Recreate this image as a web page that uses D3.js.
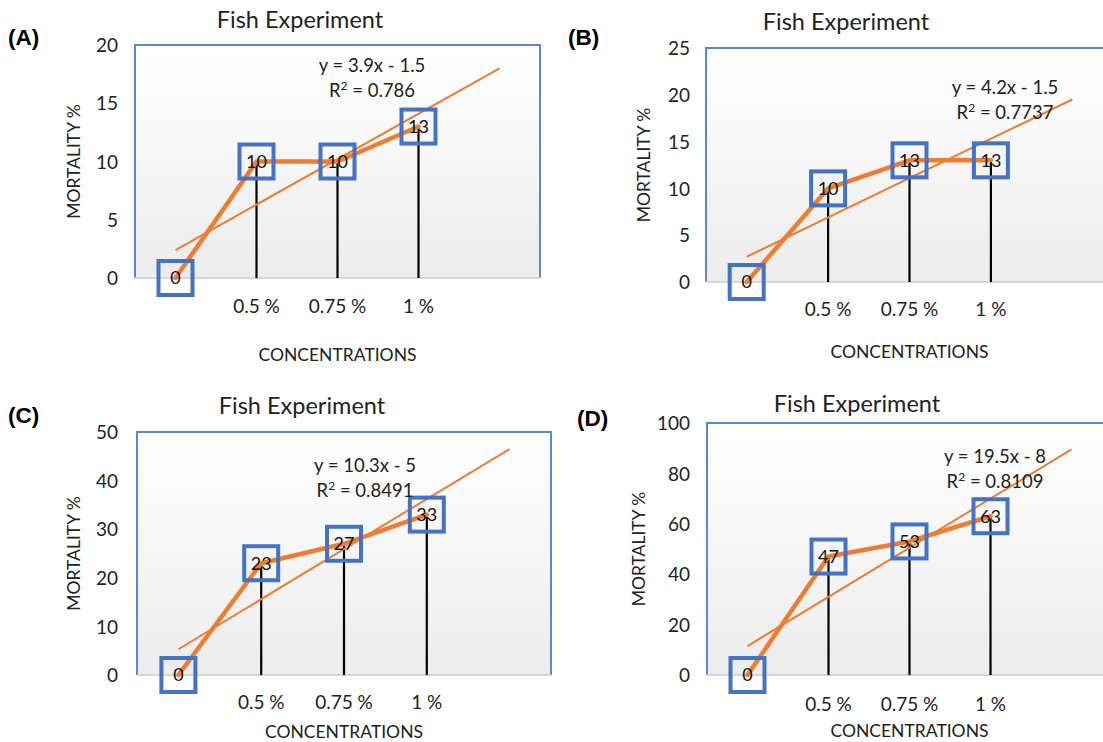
<!DOCTYPE html>
<html>
<head>
<meta charset="utf-8">
<script src="https://cdn.jsdelivr.net/npm/d3@7"></script>
<style>
  html, body { margin: 0; padding: 0; background: #ffffff; }
  svg { display: block; }
</style>
</head>
<body>
<svg id="chart" width="1103" height="742"></svg>
<script>
// Mortality of fish at each concentration, one series per panel
const categories = ["", "0.5 %", "0.75 %", "1 %", ""];
const panelLabels = ["(A)", "(B)", "(C)", "(D)"];
const mortalityA = [0, 10, 10, 13];
const mortalityB = [0, 10, 13, 13];
const mortalityC = [0, 23, 27, 33];
const mortalityD = [0, 47, 53, 63];
const yMaxima = [20, 25, 50, 100];
const yTickSteps = [5, 5, 10, 20];
// Linear trendline y = slope * x + intercept, x = category number (1..5)
const slopes = [3.9, 4.2, 10.3, 19.5];
const intercepts = [-1.5, -1.5, -5, -8];
const rSquared = ["0.786", "0.7737", "0.8491", "0.8109"];

const seriesList = [mortalityA, mortalityB, mortalityC, mortalityD];

// Frame of each panel on the page
const frames = [
  { left: 135, right: 540, top: 45, bottom: 278, tagX: 8, tagY: 45, titleX: 300, titleY: 28,
    tickX: 118, xLabelY: 313, xTitleY: 361, yTitleX: 80, eqX: 372, eqY: 72, rightBorder: true },
  { left: 706, right: 1113, top: 48, bottom: 282, tagX: 568, tagY: 45, titleX: 846, titleY: 30,
    tickX: 690, xLabelY: 316, xTitleY: 358, yTitleX: 650, eqX: 1005, eqY: 94, rightBorder: false },
  { left: 137, right: 551, top: 432, bottom: 675, tagX: 8, tagY: 423, titleX: 302, titleY: 414,
    tickX: 118, xLabelY: 709, xTitleY: 738, yTitleX: 80, eqX: 365, eqY: 472, rightBorder: true },
  { left: 707, right: 1112, top: 423, bottom: 675, tagX: 577, tagY: 426, titleX: 857, titleY: 412,
    tickX: 690, xLabelY: 711, xTitleY: 737, yTitleX: 645, eqX: 995, eqY: 463, rightBorder: false }
];

const FONT = "Lato, 'Open Sans', sans-serif";
const ORANGE = "#ED7D31";
const BLUE = "#4472C4";

const svg = d3.select("#chart");
const defs = svg.append("defs");
const grad = defs.append("linearGradient")
  .attr("id", "plotFill").attr("x1", 0).attr("y1", 0).attr("x2", 0).attr("y2", 1);
grad.append("stop").attr("offset", "0%").attr("stop-color", "#ffffff");
grad.append("stop").attr("offset", "100%").attr("stop-color", "#ececec");

seriesList.forEach((values, i) => {
  const f = frames[i];
  const g = svg.append("g");

  const x = d3.scaleBand().domain(d3.range(categories.length))
    .range([f.left, f.right]).paddingInner(0).paddingOuter(0);
  const cx = k => x(k) + x.bandwidth() / 2;
  const y = d3.scaleLinear().domain([0, yMaxima[i]]).range([f.bottom, f.top]);

  // plot area background
  g.append("rect")
    .attr("x", f.left).attr("y", f.top)
    .attr("width", f.right - f.left).attr("height", f.bottom - f.top)
    .attr("fill", "url(#plotFill)");

  // blue frame (left, top, right)
  const framePath = d3.path();
  framePath.moveTo(f.left, f.bottom);
  framePath.lineTo(f.left, f.top);
  framePath.lineTo(f.right, f.top);
  if (f.rightBorder) framePath.lineTo(f.right, f.bottom);
  g.append("path").attr("d", framePath.toString())
    .attr("fill", "none").attr("stroke", "#5B86D0").attr("stroke-width", 2);

  // category axis line
  g.append("line")
    .attr("x1", f.left).attr("x2", f.right)
    .attr("y1", f.bottom).attr("y2", f.bottom)
    .attr("stroke", "#d6d6d6").attr("stroke-width", 2);

  // y axis tick labels
  const yAxis = d3.axisLeft(y)
    .tickValues(d3.range(0, yMaxima[i] + 0.001, yTickSteps[i]))
    .tickSize(0).tickPadding(0);
  const ya = g.append("g").attr("transform", `translate(${f.tickX},0)`).call(yAxis);
  ya.select(".domain").remove();
  ya.selectAll("text").attr("font-family", FONT).attr("font-size", 19)
    .attr("fill", "#222").attr("dy", "0.35em");

  // x axis category labels
  const xAxis = d3.axisBottom(x).tickFormat(k => categories[k]).tickSize(0).tickPadding(0);
  const xa = g.append("g").attr("transform", `translate(0,${f.xLabelY})`).call(xAxis);
  xa.select(".domain").remove();
  xa.selectAll("text").attr("font-family", FONT).attr("font-size", 19)
    .attr("fill", "#222").attr("dy", "0");

  // drop lines from each point to the axis
  g.selectAll(".drop").data(values).enter().append("line")
    .attr("x1", (d, k) => cx(k)).attr("x2", (d, k) => cx(k))
    .attr("y1", d => y(d)).attr("y2", f.bottom)
    .attr("stroke", "#000").attr("stroke-width", 2.2);

  // series line
  const line = d3.line().x((d, k) => cx(k)).y(d => y(d));
  g.append("path").datum(values).attr("d", line)
    .attr("fill", "none").attr("stroke", ORANGE).attr("stroke-width", 4.5)
    .attr("stroke-linejoin", "round").attr("stroke-linecap", "round");

  // linear trendline, forecast one period forward
  const trendX = [1, categories.length];
  const trend = trendX.map(t => ({ k: t - 1, v: slopes[i] * t + intercepts[i] }));
  g.append("path").datum(trend)
    .attr("d", d3.line().x(d => cx(d.k)).y(d => y(d.v)))
    .attr("fill", "none").attr("stroke", ORANGE).attr("stroke-width", 2);

  // square markers
  const side = 34;
  g.selectAll(".marker").data(values).enter().append("rect")
    .attr("x", (d, k) => cx(k) - side / 2).attr("y", d => y(d) - side / 2)
    .attr("width", side).attr("height", side)
    .attr("fill", "none").attr("stroke", BLUE).attr("stroke-width", 4);

  // value labels
  g.selectAll(".val").data(values).enter().append("text")
    .attr("x", (d, k) => cx(k)).attr("y", d => y(d))
    .attr("dy", "0.36em").attr("text-anchor", "middle")
    .attr("font-family", FONT).attr("font-size", 18).attr("fill", "#111")
    .text(d => d);

  // trendline equation
  const sign = intercepts[i] < 0 ? "-" : "+";
  g.append("text").attr("x", f.eqX).attr("y", f.eqY).attr("text-anchor", "middle")
    .attr("font-family", FONT).attr("font-size", 18.5).attr("fill", "#222")
    .text(`y = ${slopes[i]}x ${sign} ${Math.abs(intercepts[i])}`);
  const r = g.append("text").attr("x", f.eqX).attr("y", f.eqY + 25).attr("text-anchor", "middle")
    .attr("font-family", FONT).attr("font-size", 18.5).attr("fill", "#222");
  r.append("tspan").text("R");
  r.append("tspan").attr("font-size", 12).attr("dy", -7).text("2");
  r.append("tspan").attr("dy", 7).text(` = ${rSquared[i]}`);

  // chart title
  g.append("text").attr("x", f.titleX).attr("y", f.titleY).attr("text-anchor", "middle")
    .attr("font-family", FONT).attr("font-size", 23.5).attr("fill", "#222")
    .text("Fish Experiment");

  // axis titles
  g.append("text")
    .attr("x", cx(2)).attr("y", f.xTitleY).attr("text-anchor", "middle")
    .attr("font-family", FONT).attr("font-size", 17.5).attr("fill", "#222")
    .text("CONCENTRATIONS");
  g.append("text")
    .attr("transform", `translate(${f.yTitleX},${(f.top + f.bottom) / 2}) rotate(-90)`)
    .attr("text-anchor", "middle")
    .attr("font-family", FONT).attr("font-size", 17.5).attr("fill", "#222")
    .text("MORTALITY %");

  // panel tag
  g.append("text").attr("x", f.tagX).attr("y", f.tagY)
    .attr("font-family", "'Liberation Sans', Arial, sans-serif")
    .attr("font-size", 22.5).attr("font-weight", "bold").attr("fill", "#000")
    .text(panelLabels[i]);
});
</script>
</body>
</html>
